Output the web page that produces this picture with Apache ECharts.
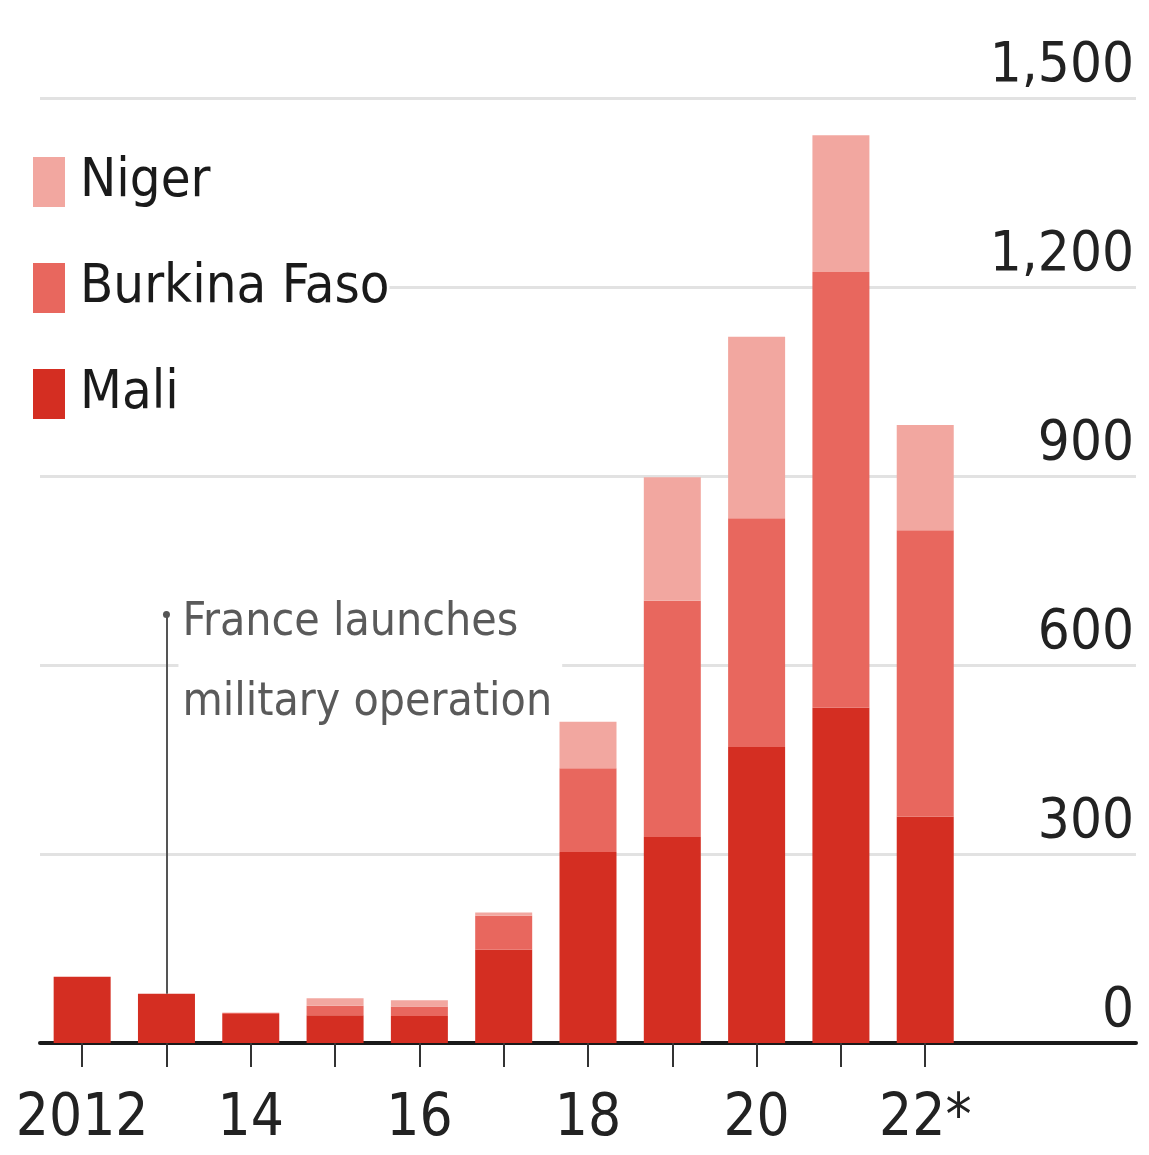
<!DOCTYPE html>
<html>
<head>
<meta charset="utf-8">
<script src="https://cdn.jsdelivr.net/npm/echarts@6/dist/echarts.min.js"></script>
<style>
  html, body { margin: 0; padding: 0; background: #ffffff; }
  #chart { width: 1149px; height: 1155px; }
</style>
</head>
<body>
<div id="chart"></div>
<script>
// ---- data ----
const categories = ['2012','13','14','15','16','17','18','19','20','21','22*','',''];
const xTickLabels = ['2012','','14','','16','','18','','20','','22*','',''];
const mali        = [105, 78, 46, 44, 43, 148, 303, 327, 470, 532, 359, null, null];
const burkinaFaso = [0, 0, 2, 15, 15, 54, 133, 375, 363, 692, 455, null, null];
const niger       = [0, 0, 0, 12, 10, 5, 74, 196, 288, 217, 167, null, null];
const yTicks = [0, 300, 600, 900, 1200, 1500];
const annotationYear = '13';
const annotationFrom = 78;
const annotationTo = 680;
const annotationText = 'France launches\nmilitary operation';

const FONT = "'Liberation Sans Narrow', 'DejaVu Sans Condensed', 'Roboto', sans-serif";
const C_MALI = '#d42e22';
const C_BF = '#e8675e';
const C_NIGER = '#f2a7a0';

const chart = echarts.init(document.getElementById('chart'), null, { renderer: 'canvas' });

const option = {
  backgroundColor: '#ffffff',
  animation: false,
  grid: { left: 40, right: 13, top: 98, bottom: 112, containLabel: false },
  legend: {
    data: ['Niger', 'Burkina Faso', 'Mali'],
    orient: 'vertical',
    left: 28,
    top: 150,
    icon: 'rect',
    itemWidth: 32,
    itemHeight: 50,
    itemGap: 52,
    backgroundColor: '#ffffff',
    padding: [5, 0, 5, 5],
    z: 10,
    selectedMode: false,
    textStyle: { fontFamily: FONT, fontSize: 54, color: '#1a1a1a', padding: [6, 0, 0, 10] }
  },
  xAxis: {
    type: 'category',
    data: categories,
    axisLine: { show: true, lineStyle: { color: '#1a1a1a', width: 4 } },
    axisTick: {
      show: true,
      alignWithLabel: true,
      length: 24,
      lineStyle: { color: '#333', width: 2 },
      interval: function (idx) { return idx <= 10; }
    },
    axisLabel: {
      interval: 0,
      margin: 48,
      fontFamily: FONT,
      fontSize: 58,
      color: '#222',
      formatter: function (v, idx) { return xTickLabels[idx]; }
    },
    splitLine: { show: false }
  },
  yAxis: {
    type: 'value',
    position: 'right',
    min: 0,
    max: 1500,
    interval: 300,
    axisLine: { show: false },
    axisTick: { show: false },
    axisLabel: {
      inside: true,
      margin: 2,
      verticalAlign: 'bottom',
      padding: [0, 0, 4, 0],
      fontFamily: FONT,
      fontSize: 56,
      color: '#222',
      formatter: function (v) { return yTicks.indexOf(v) >= 0 ? v.toLocaleString('en-US') : ''; }
    },
    splitLine: { show: true, lineStyle: { color: '#e2e2e2', width: 3 } }
  },
  series: [
    {
      name: 'Mali', type: 'bar', stack: 'total', barWidth: 57,
      itemStyle: { color: C_MALI }, data: mali, z: 3,
      markLine: {
        silent: true,
        symbol: ['none', 'circle'],
        symbolSize: 7,
        label: { show: false },
        lineStyle: { color: '#555', width: 2, type: 'solid' },
        data: [[{ coord: [annotationYear, annotationFrom] }, { coord: [annotationYear, annotationTo] }]]
      }
    },
    { name: 'Burkina Faso', type: 'bar', stack: 'total', barWidth: 57, itemStyle: { color: C_BF }, data: burkinaFaso, z: 3 },
    { name: 'Niger', type: 'bar', stack: 'total', barWidth: 57, itemStyle: { color: C_NIGER }, data: niger, z: 3 }
  ]
};

chart.setOption(option);

const p = chart.convertToPixel({ xAxisIndex: 0, yAxisIndex: 0 }, [annotationYear, annotationTo]);
chart.setOption({
  graphic: [{
    type: 'text',
    x: p[0] + 12,
    y: p[1] - 32,
    z: 1,
    style: {
      text: annotationText,
      fontFamily: FONT,
      fontSize: 46,
      lineHeight: 80,
      fill: '#5a5a5a',
      backgroundColor: '#ffffff',
      padding: [0, 10, 0, 4]
    }
  }]
});
</script>
</body>
</html>
